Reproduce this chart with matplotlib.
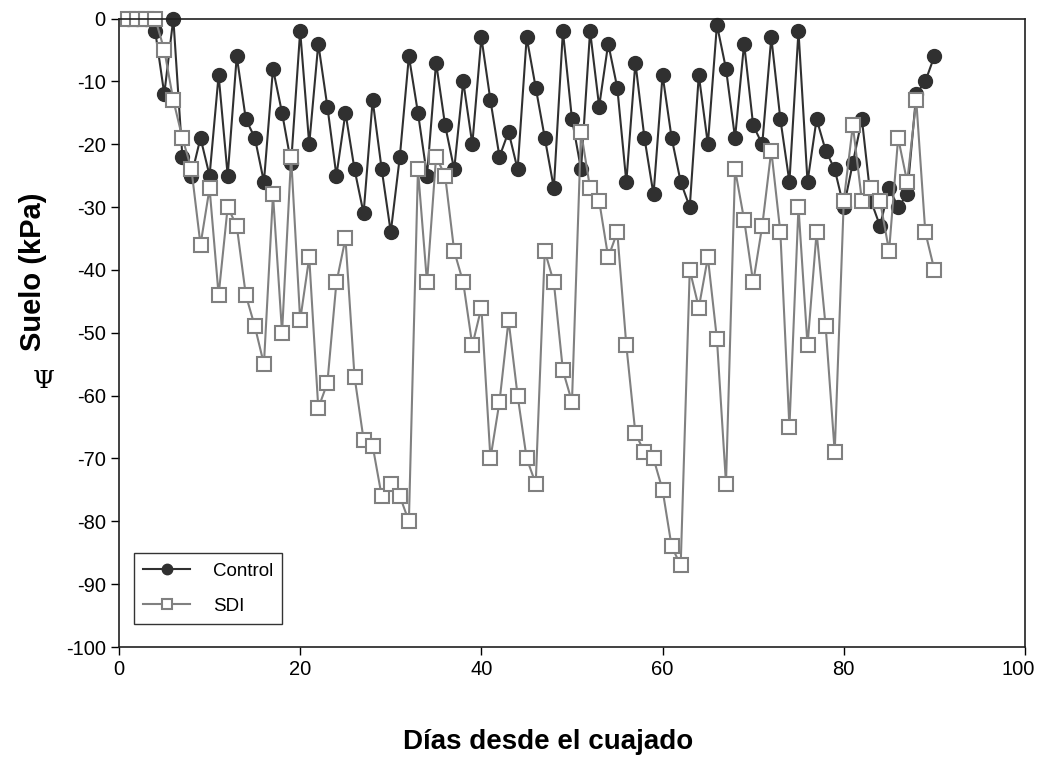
import numpy as np
import matplotlib.pyplot as plt
import matplotlib.transforms as mtransforms

plt.rcParams['font.family'] = ['Liberation Sans', 'DejaVu Sans']
plt.rcParams['axes.unicode_minus'] = False

# Datos (potencial hídrico del suelo, kPa)
dias = np.arange(1, 91)

control = [0, 0, 0, -2, -12, 0, -22, -25, -19, -25,
           -9, -25, -6, -16, -19, -26, -8, -15, -23, -2,
           -20, -4, -14, -25, -15, -24, -31, -13, -24, -34,
           -22, -6, -15, -25, -7, -17, -24, -10, -20, -3,
           -13, -22, -18, -24, -3, -11, -19, -27, -2, -16,
           -24, -2, -14, -4, -11, -26, -7, -19, -28, -9,
           -19, -26, -30, -9, -20, -1, -8, -19, -4, -17,
           -20, -3, -16, -26, -2, -26, -16, -21, -24, -30,
           -23, -16, -29, -33, -27, -30, -28, -12, -10, -6]

sdi = [0, 0, 0, 0, -5, -13, -19, -24, -36, -27,
       -44, -30, -33, -44, -49, -55, -28, -50, -22, -48,
       -38, -62, -58, -42, -35, -57, -67, -68, -76, -74,
       -76, -80, -24, -42, -22, -25, -37, -42, -52, -46,
       -70, -61, -48, -60, -70, -74, -37, -42, -56, -61,
       -18, -27, -29, -38, -34, -52, -66, -69, -70, -75,
       -84, -87, -40, -46, -38, -51, -74, -24, -32, -42,
       -33, -21, -34, -65, -30, -52, -34, -49, -69, -29,
       -17, -29, -27, -29, -37, -19, -26, -13, -34, -40]

fig = plt.figure(figsize=(10.39, 7.62), dpi=100)
ax = fig.add_axes([0.1145, 0.1509, 0.872, 0.8248])

ax.plot(dias, control, color='#303030', lw=1.5, marker='o', markersize=10,
        markerfacecolor='#303030', markeredgecolor='#303030', label='Control',
        clip_on=False)
ax.plot(dias, sdi, color='#808080', lw=1.5, marker='s', markersize=9.5,
        markerfacecolor='white', markeredgecolor='#808080', markeredgewidth=1.5,
        label='SDI', clip_on=False)

ax.set_xlim(0, 100)
ax.set_ylim(-100, 0)
ax.set_xticks(np.arange(0, 101, 20))
ax.set_yticks(np.arange(-100, 1, 10))
ax.tick_params(labelsize=14.5, length=6, width=1, direction='out')
for sp in ax.spines.values():
    sp.set_linewidth(1.2)
    sp.set_color('#202020')

# la etiqueta "100" queda algo desplazada a la izquierda en el original
fig.canvas.draw()
ultima = ax.get_xticklabels()[-1]
ultima.set_transform(ultima.get_transform() +
                     mtransforms.ScaledTranslation(-0.07, 0, fig.dpi_scale_trans))

fig.text(0.528, 0.026, 'Días desde el cuajado', fontsize=20, fontweight='bold',
         ha='center', va='center')
fig.text(0.032, 0.643, 'Suelo (kPa)', rotation=90, fontsize=21, fontweight='bold',
         ha='center', va='center')
fig.text(0.042, 0.5, 'Ψ', fontsize=18, family=['DejaVu Serif'], ha='center', va='center')

leg = ax.legend(loc='lower left', bbox_to_anchor=(0.0166, 0.0366), fontsize=13.5,
                frameon=True, fancybox=False, edgecolor='black', handlelength=2.5,
                handletextpad=1.2, borderpad=0.5, borderaxespad=0, labelspacing=0.95,
                markerscale=0.75)
leg.get_frame().set_linewidth(1.0)

plt.savefig('out.png', dpi=100)
